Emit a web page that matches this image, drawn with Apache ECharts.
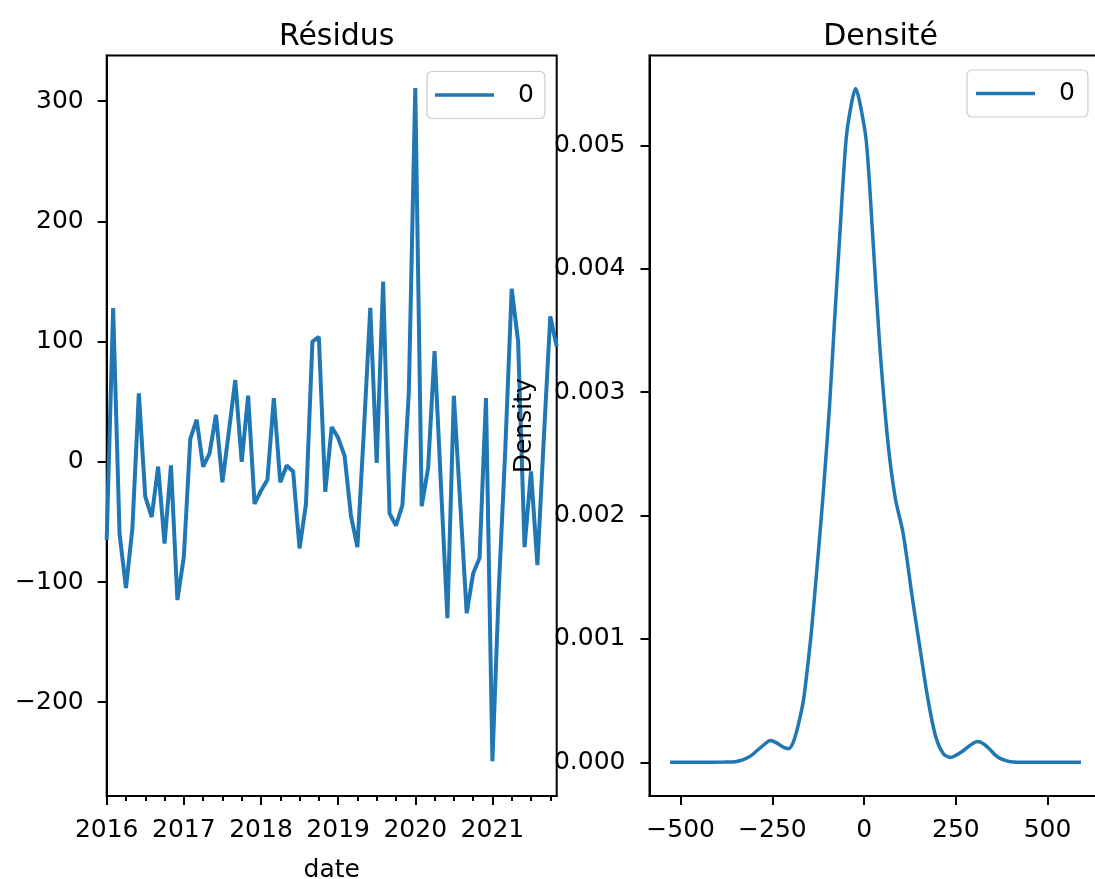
<!DOCTYPE html>
<html>
<head>
<meta charset="utf-8">
<title>Résidus / Densité</title>
<script src="https://cdn.jsdelivr.net/npm/echarts@6/dist/echarts.min.js"></script>
<style>
  html, body { margin: 0; padding: 0; background: #fff; }
  #chart { width: 1095px; height: 879px; }
</style>
</head>
<body>
<div id="chart"></div>
<script>
// monthly residuals, 2016-01 .. 2021-11
const months = [
  '2016-01', '2016-02', '2016-03', '2016-04', '2016-05', '2016-06', '2016-07', '2016-08', '2016-09', '2016-10', '2016-11', '2016-12',
  '2017-01', '2017-02', '2017-03', '2017-04', '2017-05', '2017-06', '2017-07', '2017-08', '2017-09', '2017-10', '2017-11', '2017-12',
  '2018-01', '2018-02', '2018-03', '2018-04', '2018-05', '2018-06', '2018-07', '2018-08', '2018-09', '2018-10', '2018-11', '2018-12',
  '2019-01', '2019-02', '2019-03', '2019-04', '2019-05', '2019-06', '2019-07', '2019-08', '2019-09', '2019-10', '2019-11', '2019-12',
  '2020-01', '2020-02', '2020-03', '2020-04', '2020-05', '2020-06', '2020-07', '2020-08', '2020-09', '2020-10', '2020-11', '2020-12',
  '2021-01', '2021-02', '2021-03', '2021-04', '2021-05', '2021-06', '2021-07', '2021-08', '2021-09', '2021-10', '2021-11'
]
const residuals = [
  -65, 128, -60, -105, -55, 57, -29, -46, -4, -68, -3, -115,
  -79, 19, 35, -4, 7, 39, -17, 25, 68, 0, 55, -35,
  -24, -15, 53, -17, -3, -8, -72, -35, 100, 104, -25, 29,
  20, 5, -45, -71, 25, 128, -1, 150, -43, -53, -36, 58,
  311, -37, -5, 92, -20, -130, 55, -35, -126, -93, -80, 53,
  -249, -105, 10, 144, 100, -71, -8, -86, 20, 121, 96
]

// kernel density curve
const densityX = [
  -529, -450, -380, -352, -331, -310, -290, -270, -256, -240, -222, -206, -195, -185, -175, -165,
  -155, -144, -128, -122, -112, -94, -81, -67, -49, -35, -23, -12, 6, 24, 42, 65,
  85, 106, 132, 153, 174, 195, 216, 236, 252, 268, 290, 309, 325, 341, 357, 372,
  398, 450, 520, 591
]
const densityY = [
  0, 0, 0.000002, 0.000005, 0.00002, 0.00005, 0.0001, 0.00015, 0.000176, 0.00016, 0.000125, 0.00011, 0.00015, 0.00024, 0.00036, 0.00051,
  0.00075, 0.00105, 0.00159, 0.0018, 0.00216, 0.0029, 0.00356, 0.00424, 0.00505, 0.00533, 0.00546, 0.00535, 0.00503, 0.00424, 0.0034, 0.00259,
  0.00214, 0.00186, 0.00132, 0.00091, 0.00051, 0.00021, 0.00007, 0.00004, 0.00006, 0.00009, 0.00014, 0.000168, 0.00015, 0.00011, 0.00006, 0.00003,
  0.000005, 0, 0, 0
]

const residTicks = [-200, -100, 0, 100, 200, 300]
const densTicks = [0, 0.001, 0.002, 0.003, 0.004, 0.005]
const densXTicks = [-500, -250, 0, 250, 500]

const FONT = 'DejaVu Sans'
const BLUE = '#1f77b4'
const minus = v => (v < 0 ? '\u2212' + Math.abs(v) : String(v))
const tickStyle = { color: '#000', width: 2 }
const labelStyle = { fontSize: 25, color: '#000', fontFamily: FONT }

const chart = echarts.init(document.getElementById('chart'))

const legendBase = {
  data: ['0'],
  selectedMode: false,
  icon: 'rect',
  itemWidth: 59,
  itemHeight: 3.5,
  borderColor: '#cccccc',
  borderWidth: 1.2,
  borderRadius: 5,
  backgroundColor: 'rgba(255,255,255,0.8)',
  textStyle: { fontSize: 25, color: '#000', fontFamily: FONT, padding: [0, 0, 0, 19] }
}

const option = {
  animation: false,
  backgroundColor: '#fff',
  textStyle: { fontFamily: FONT },
  title: [
    { text: 'Résidus', left: 331.7, top: 17, textAlign: 'center', textStyle: { fontSize: 30, fontWeight: 'normal', color: '#000', fontFamily: FONT } },
    { text: 'Densité', left: 875.6, top: 17, textAlign: 'center', textStyle: { fontSize: 30, fontWeight: 'normal', color: '#000', fontFamily: FONT } }
  ],
  legend: [
    Object.assign({}, legendBase, { left: 427, top: 71.5, padding: [11, 11, 11, 8] }),
    Object.assign({}, legendBase, { left: 967, top: 70, padding: [11, 13, 11, 9] })
  ],
  grid: [
    { left: 106.7, top: 55.5, width: 450, height: 740.5, outerBoundsMode: 'none', containLabel: false, show: true, borderColor: '#000', borderWidth: 2, backgroundColor: 'transparent' },
    { left: 649.5, top: 55.5, width: 452, height: 740.5, outerBoundsMode: 'none', containLabel: false, show: true, borderColor: '#000', borderWidth: 2, backgroundColor: 'transparent' }
  ],
  xAxis: [
    {
      type: 'category',
      gridIndex: 0,
      data: months,
      boundaryGap: false,
      axisLine: { show: true, onZero: false, lineStyle: tickStyle },
      axisTick: { show: true, interval: i => i % 12 === 0, length: 9, lineStyle: tickStyle },
      axisLabel: Object.assign({ interval: i => i % 12 === 0, formatter: v => v.slice(0, 4), margin: 22 }, labelStyle),
      splitLine: { show: false },
      name: 'date',
      nameLocation: 'middle',
      nameGap: 62,
      nameTextStyle: labelStyle
    },
    {
      type: 'category',
      gridIndex: 0,
      data: months,
      boundaryGap: false,
      position: 'bottom',
      axisLine: { show: false, onZero: false },
      axisTick: { show: true, interval: i => i % 3 === 0, length: 5, lineStyle: tickStyle },
      axisLabel: { show: false },
      splitLine: { show: false }
    },
    {
      type: 'value',
      gridIndex: 1,
      min: -585,
      max: 647,
      axisLine: { show: true, onZero: false, lineStyle: tickStyle },
      axisTick: { show: true, customValues: densXTicks, length: 9, lineStyle: tickStyle },
      axisLabel: Object.assign({ customValues: densXTicks, formatter: minus, margin: 22 }, labelStyle),
      splitLine: { show: false }
    }
  ],
  yAxis: [
    {
      type: 'value',
      gridIndex: 0,
      min: -278,
      max: 338,
      axisLine: { show: true, onZero: false, lineStyle: tickStyle },
      axisTick: { show: true, customValues: residTicks, length: 9, lineStyle: tickStyle },
      axisLabel: Object.assign({ customValues: residTicks, formatter: minus, margin: 23 }, labelStyle),
      splitLine: { show: false }
    },
    {
      type: 'value',
      gridIndex: 1,
      min: -0.000273,
      max: 0.005728,
      z: 5,
      axisLine: { show: true, onZero: false, lineStyle: tickStyle },
      axisTick: { show: true, customValues: densTicks, length: 9, lineStyle: tickStyle },
      axisLabel: Object.assign({ customValues: densTicks, formatter: v => v.toFixed(3), margin: 24 }, labelStyle),
      splitLine: { show: false },
      name: 'Density',
      nameLocation: 'middle',
      nameRotate: 90,
      nameGap: 113,
      nameTextStyle: labelStyle
    }
  ],
  series: [
    {
      name: '0',
      type: 'line',
      xAxisIndex: 0,
      yAxisIndex: 0,
      data: residuals,
      symbol: 'none',
      lineStyle: { color: BLUE, width: 4 },
      itemStyle: { color: BLUE }
    },
    {
      name: '0',
      type: 'line',
      xAxisIndex: 2,
      yAxisIndex: 1,
      data: densityX.map((x, i) => [x, densityY[i]]),
      symbol: 'none',
      smooth: 0.3,
      lineStyle: { color: BLUE, width: 3.5 },
      itemStyle: { color: BLUE }
    }
  ]
}

chart.setOption(option)
</script>
</body>
</html>
